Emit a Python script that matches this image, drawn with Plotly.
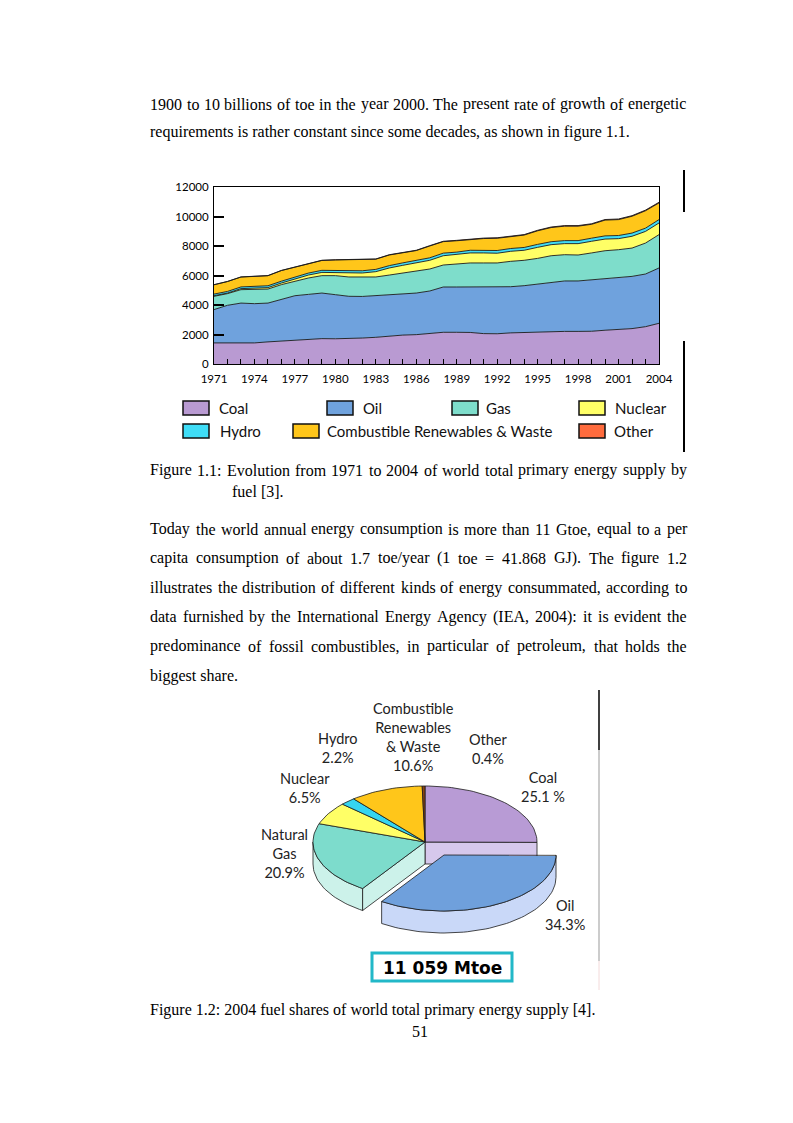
import math
import plotly.graph_objects as go

W, H = 793, 1123
OFF = 8  # page body margin of the browser

# ---------------- data: figure 1.1 (Mtoe) ----------------
years = list(range(1971, 2005))
coal = [1430, 1430, 1440, 1430, 1500, 1550, 1580, 1640, 1720, 1710, 1720, 1760, 1810, 1900, 1960, 1990, 2060,
        2150, 2150, 2140, 2060, 2050, 2110, 2140, 2200, 2210, 2210, 2210, 2220, 2290, 2320, 2400, 2530, 2760]
oil = [2260, 2550, 2690, 2660, 2630, 2850, 3050, 3080, 3090, 2990, 2870, 2820, 2820, 2800, 2760, 2820, 2890,
       3070, 3070, 3080, 3160, 3170, 3130, 3170, 3220, 3330, 3420, 3420, 3500, 3520, 3580, 3540, 3570, 3750]
gas = [900, 790, 910, 990, 950, 980, 970, 1110, 1180, 1290, 1310, 1300, 1270, 1330, 1450, 1470, 1490,
       1490, 1560, 1630, 1630, 1630, 1720, 1720, 1740, 1800, 1780, 1760, 1810, 1870, 1850, 1920, 2100, 2260]
nuclear = [40, 40, 70, 70, 100, 110, 160, 200, 220, 220, 270, 290, 360, 480, 520, 570, 590,
           630, 630, 680, 680, 660, 680, 680, 750, 750, 750, 770, 790, 790, 750, 800, 790, 790]
hydro = [110, 110, 115, 125, 125, 125, 130, 135, 140, 145, 150, 150, 155, 160, 165, 170, 170,
         175, 175, 180, 185, 185, 190, 190, 200, 200, 205, 205, 210, 215, 210, 215, 220, 230]
renewables = [630, 670, 670, 660, 680, 720, 680, 670, 670, 700, 740, 740, 690, 720, 700, 670, 800,
              780, 770, 730, 790, 830, 800, 840, 920, 960, 980, 980, 940, 1070, 1080, 1140, 1180, 1130]
other = [8, 8, 9, 9, 10, 10, 11, 12, 12, 13, 14, 15, 16, 18, 20, 22, 24,
         26, 28, 30, 31, 32, 33, 34, 35, 36, 37, 38, 39, 40, 41, 42, 43, 44]

area_names = ["Coal", "Oil", "Gas", "Nuclear", "Hydro", "Combustible Renewables & Waste", "Other"]
area_colors = ["#B99AD2", "#6FA2DD", "#7EDDCB", "#FFFF66", "#3FDDF7", "#FFC61A", "#FF6B3D"]
y_ticks = [0, 2000, 4000, 6000, 8000, 10000, 12000]
x_tick_years = list(range(1971, 2005, 3))

# ---------------- data: figure 1.2 (2004 shares, %) ----------------
pie_names = ["Coal", "Oil", "Natural<br>Gas", "Nuclear", "Hydro", "Combustible<br>Renewables<br>& Waste", "Other"]
pie_shares = [25.1, 34.3, 20.9, 6.5, 2.2, 10.6, 0.4]
pie_top_colors = ["#B89BD5", "#6FA0DC", "#7DDCCC", "#FFFF66", "#35D5F0", "#FFC61A", "#8B4513"]
pie_side_colors = ["#D6C8EC", "#C9D8F8", "#CCF2EA", "#FFFFB0", "#A0EEFA", "#FFE08A", "#C08060"]
pie_total = "11 059 Mtoe"

# ---------------- page text ----------------
para1 = ["1900 to 10 billions of toe in the year 2000. The present rate of growth of energetic",
         "requirements is rather constant since some decades, as shown in figure 1.1."]
cap1 = ["Figure 1.1: Evolution from 1971 to 2004 of world total primary energy supply by", "fuel [3]."]
para2 = ["Today the world annual energy consumption is more than 11 Gtoe, equal to a per",
         "capita consumption of about 1.7 toe/year (1 toe = 41.868 GJ). The figure 1.2",
         "illustrates the distribution of different kinds of energy consummated, according to",
         "data furnished by the International Energy Agency (IEA, 2004): it is evident the",
         "predominance of fossil combustibles, in particular of petroleum, that holds the",
         "biggest share."]
cap2 = "Figure 1.2: 2004 fuel shares of world total primary energy supply [4]."
page_no = "51"

fig = go.Figure()

# ---------- stacked area chart ----------
for name, vals, col in zip(area_names, [coal, oil, gas, nuclear, hydro, renewables, other], area_colors):
    fig.add_trace(go.Scatter(x=years, y=vals, stackgroup="one", mode="lines",
                             line=dict(color="#1a1a1a", width=0.9), fillcolor=col,
                             name=name, showlegend=False, hoverinfo="skip"))

# ---------- 3D-looking exploded pie ----------
cx, cy, rx, ry, depth = 425.0, 842.0, 112.0, 56.0, 22.0
explode_idx = 1
ex_dx, ex_dy = 19.0, 13.0


def pt(a, dx=0.0, dy=0.0, dz=0.0):
    t = math.radians(a)
    return cx + dx + rx * math.sin(t), cy + dy - ry * math.cos(t) + dz


def arc(a0, a1, dx=0.0, dy=0.0, dz=0.0):
    n = max(2, int(abs(a1 - a0) / 2) + 2)
    return [pt(a0 + (a1 - a0) * k / (n - 1), dx, dy, dz) for k in range(n)]


def poly(points, fill):
    xs = [p[0] for p in points] + [points[0][0]]
    ys = [p[1] for p in points] + [points[0][1]]
    fig.add_trace(go.Scatter(x=xs, y=ys, xaxis="x2", yaxis="y2", mode="lines", fill="toself",
                             fillcolor=fill, line=dict(color="#1a1a1a", width=0.8),
                             showlegend=False, hoverinfo="skip"))


bounds = []
acc = 0.0
for s in pie_shares:
    a0 = acc * 3.6
    acc += s
    bounds.append((a0, acc * 3.6))


def wall(i, dx=0.0, dy=0.0):
    a0, a1 = bounds[i]
    s, e = max(a0, 90.0), min(a1, 270.0)
    if e - s > 1.0:
        top = arc(s, e, dx, dy)
        bot = arc(e, s, dx, dy, depth)
        poly(top + bot, pie_side_colors[i])


for i in range(len(pie_shares)):
    if i != explode_idx:
        wall(i)
prev_i, next_i = explode_idx - 1, explode_idx + 1
for i, a in [(prev_i, bounds[explode_idx][0]), (next_i, bounds[explode_idx][1])]:
    ox, oy = pt(a)
    poly([(cx, cy), (ox, oy), (ox, oy + depth), (cx, cy + depth)], pie_side_colors[i])
for i in range(len(pie_shares)):
    if i != explode_idx:
        a0, a1 = bounds[i]
        poly([(cx, cy)] + arc(a0, a1), pie_top_colors[i])
wall(explode_idx, ex_dx, ex_dy)
a0, a1 = bounds[explode_idx]
poly([(cx + ex_dx, cy + ex_dy)] + arc(a0, a1, ex_dx, ex_dy), pie_top_colors[explode_idx])

annotations = []
shapes = []


def ann(text, x, y, size=16, family="Liberation Serif, Times New Roman, serif", xanchor="left",
        color="black", align="left"):
    annotations.append(dict(text=text, x=x, y=y, xref="x2", yref="y2", showarrow=False,
                            xanchor=xanchor, yanchor="middle", align=align,
                            font=dict(family=family, size=size, color=color)))


pie_label_pos = [(543, 787), (565, 915), (284, 853), (305, 788), (338, 748), (413, 737), (488, 749)]
for name, share, (lx, ly) in zip(pie_names, pie_shares, pie_label_pos):
    pct = f"{share:.1f} %" if name == "Coal" else f"{share:.1f}%"
    ann(f"{name}<br>{pct}", lx, ly, size=14.5, family="Lato, sans-serif", xanchor="center",
        color="#222222", align="center")

shapes.append(dict(type="rect", xref="x2", yref="y2", x0=372, x1=512, y0=953, y1=981,
                   line=dict(color="#22B8C8", width=3), fillcolor="white"))
ann(f"<b>{pie_total}</b>", 442, 967.5, size=17, family="DejaVu Sans, Verdana, sans-serif",
    xanchor="center")

legend_pos = [(183, 408, 217), (327, 408, 361), (452, 408, 484), (579, 408, 613),
              (183, 431, 218), (293, 431, 325), (579, 431, 612)]
for name, col, (bx, by, tx) in zip(area_names, area_colors, legend_pos):
    shapes.append(dict(type="rect", xref="x2", yref="y2", x0=bx, x1=bx + 26, y0=by - 7, y1=by + 7,
                       line=dict(color="#111111", width=1.5), fillcolor=col))
    ann(name, tx, by, size=15, family="Lato, sans-serif", color="#111111")

shapes.append(dict(type="line", xref="x2", yref="y2", x0=684, x1=684, y0=170, y1=212,
                   line=dict(color="black", width=2)))
shapes.append(dict(type="line", xref="x2", yref="y2", x0=684, x1=684, y0=341, y1=452,
                   line=dict(color="black", width=2)))
shapes.append(dict(type="line", xref="x2", yref="y2", x0=599, x1=599, y0=690, y1=750,
                   line=dict(color="black", width=1.5)))
shapes.append(dict(type="line", xref="x2", yref="y2", x0=599, x1=599, y0=750, y1=961,
                   line=dict(color="#999999", width=1)))
shapes.append(dict(type="line", xref="x2", yref="y2", x0=599, x1=599, y0=961, y1=990,
                   line=dict(color="#F3DADA", width=1)))

TW = {' ': 250, '.': 250, ',': 250, ':': 278, ';': 278, '(': 333, ')': 333, '[': 333, ']': 333,
      '=': 564, '/': 278, '-': 333, '&': 778, '%': 833,
      'a': 444, 'b': 500, 'c': 444, 'd': 500, 'e': 444, 'f': 333, 'g': 500, 'h': 500, 'i': 278,
      'j': 278, 'k': 500, 'l': 278, 'm': 778, 'n': 500, 'o': 500, 'p': 500, 'q': 500, 'r': 333,
      's': 389, 't': 278, 'u': 500, 'v': 500, 'w': 722, 'x': 500, 'y': 500, 'z': 444,
      'A': 722, 'B': 667, 'C': 667, 'D': 722, 'E': 611, 'F': 556, 'G': 722, 'H': 722, 'I': 333,
      'J': 389, 'K': 722, 'L': 611, 'M': 889, 'N': 722, 'O': 722, 'P': 556, 'Q': 722, 'R': 667,
      'S': 556, 'T': 611, 'U': 722, 'V': 722, 'W': 944, 'X': 722, 'Y': 722, 'Z': 611}
FS = 16


def tw(s):
    return sum(TW.get(c, 500) for c in s) * FS / 1000.0


def text_line(text, y, x0=150, x1=687, justify=True):
    words = text.split(" ")
    if not justify or len(words) < 2:
        ann(text, x0 - 2, y, size=FS)
        return
    widths = [tw(w) for w in words]
    gap = (x1 - x0 - sum(widths)) / (len(words) - 1)
    x = x0
    for w, wd in zip(words, widths):
        ann(w, x - 2, y, size=FS)
        x += wd + gap


text_line(para1[0], 104)
text_line(para1[1], 132, justify=False)
text_line(cap1[0], 470)
text_line(cap1[1], 491, x0=232, justify=False)
for k, line in enumerate(para2):
    text_line(line, 529 + k * 29.3, justify=(k < len(para2) - 1))
text_line(cap2, 1010, justify=False)
ann(page_no, 420, 1031, size=FS, xanchor="center")


def dom_x(a, b):
    return [(a - OFF) / W, (b - OFF) / W]


def dom_y(top, bottom):
    return [1 - (bottom - OFF) / H, 1 - (top - OFF) / H]


axis_font = dict(family="Lato, sans-serif", size=11.5, color="black")
fig.update_layout(
    template="none",
    width=W, height=H, margin=dict(l=0, r=0, t=0, b=0, pad=0, autoexpand=False),
    paper_bgcolor="white", plot_bgcolor="rgba(0,0,0,0)", showlegend=False,
    xaxis=dict(domain=dom_x(214, 659), range=[1971, 2004], anchor="y", automargin=False,
               tickmode="array", tickvals=x_tick_years, ticktext=[str(v) for v in x_tick_years],
               ticks="inside", ticklen=5, tickwidth=1, ticklabelstandoff=4,
               tickcolor="black", showline=True, linecolor="black", linewidth=1, mirror=True,
               showgrid=False, zeroline=False, tickfont=axis_font, fixedrange=True,
               minor=dict(dtick=1, tick0=1971, ticks="inside", ticklen=5, tickcolor="black",
                          showgrid=False)),
    yaxis=dict(domain=dom_y(187, 364), range=[0, 12000], anchor="x", automargin=False,
               tickmode="array", tickvals=y_ticks, ticktext=[str(v) for v in y_ticks],
               ticks="inside", ticklen=10, tickwidth=1.5, ticklabelstandoff=2,
               tickcolor="black", showline=True, linecolor="black", linewidth=1, mirror=True,
               showgrid=False, zeroline=False, tickfont=axis_font, fixedrange=True),
    xaxis2=dict(domain=[0, 1], range=[OFF, W + OFF], visible=False, anchor="y2", fixedrange=True,
                automargin=False),
    yaxis2=dict(domain=[0, 1], range=[H + OFF, OFF], visible=False, anchor="x2", fixedrange=True,
                automargin=False),
    annotations=annotations, shapes=shapes,
)

fig.write_html("out.html")
